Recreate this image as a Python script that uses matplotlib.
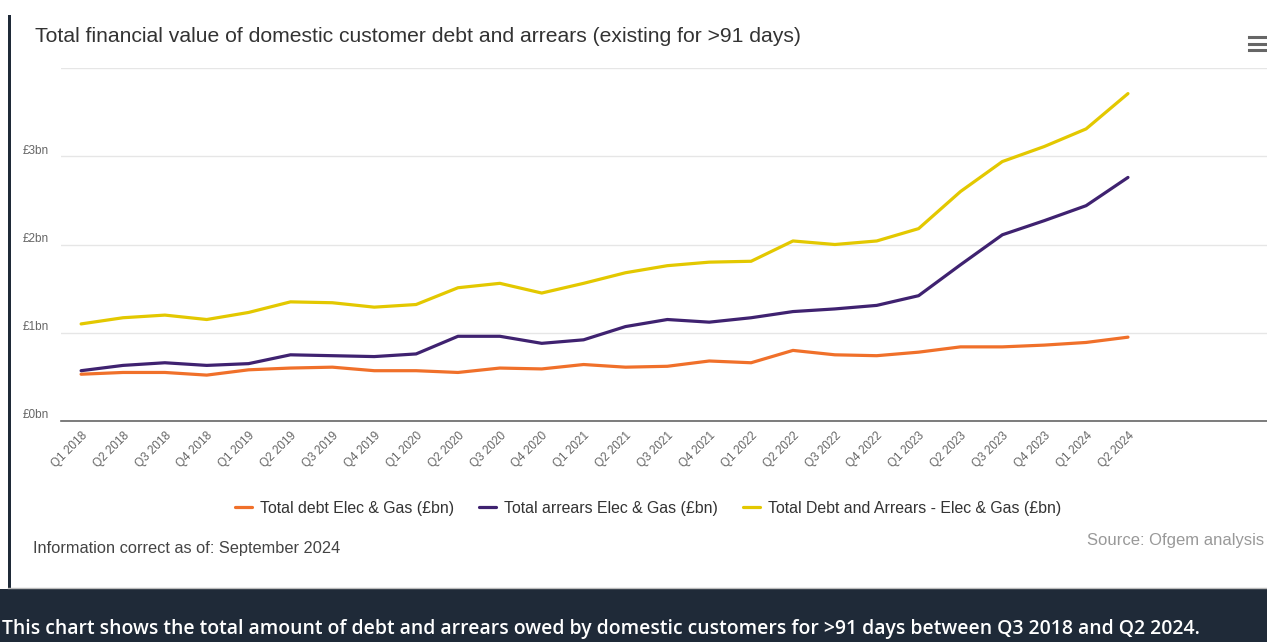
import matplotlib.pyplot as plt
import matplotlib.transforms as mtransforms
from matplotlib.lines import Line2D
from matplotlib.patches import Rectangle

quarters = [
    "Q1 2018", "Q2 2018", "Q3 2018", "Q4 2018",
    "Q1 2019", "Q2 2019", "Q3 2019", "Q4 2019",
    "Q1 2020", "Q2 2020", "Q3 2020", "Q4 2020",
    "Q1 2021", "Q2 2021", "Q3 2021", "Q4 2021",
    "Q1 2022", "Q2 2022", "Q3 2022", "Q4 2022",
    "Q1 2023", "Q2 2023", "Q3 2023", "Q4 2023",
    "Q1 2024", "Q2 2024",
]

# £bn owed for more than 91 days
total_debt = [
    0.53, 0.55, 0.55, 0.52, 0.58, 0.60, 0.61, 0.57, 0.57, 0.55, 0.60, 0.59, 0.64,
    0.61, 0.62, 0.68, 0.66, 0.80, 0.75, 0.74, 0.78, 0.84, 0.84, 0.86, 0.89, 0.95,
]
total_arrears = [
    0.57, 0.63, 0.66, 0.63, 0.65, 0.75, 0.74, 0.73, 0.76, 0.96, 0.96, 0.88, 0.92,
    1.07, 1.15, 1.12, 1.17, 1.24, 1.27, 1.31, 1.42, 1.77, 2.11, 2.27, 2.44, 2.76,
]
debt_and_arrears = [
    1.10, 1.17, 1.20, 1.15, 1.23, 1.35, 1.34, 1.29, 1.32, 1.51, 1.56, 1.45, 1.56,
    1.68, 1.76, 1.80, 1.81, 2.04, 2.00, 2.04, 2.18, 2.60, 2.94, 3.11, 3.31, 3.71,
]

series_names = [
    "Total debt Elec & Gas (£bn)",
    "Total arrears Elec & Gas (£bn)",
    "Total Debt and Arrears - Elec & Gas (£bn)",
]
series_colors = ["#f0702a", "#3f2270", "#e3c800"]

y_ticks = [0, 1, 2, 3, 4]
y_labels = ["£0bn", "£1bn", "£2bn", "£3bn", ""]

plt.rcParams["font.family"] = ["Liberation Sans", "DejaVu Sans"]

W, H = 1267, 642
fig = plt.figure(figsize=(W / 100, H / 100), dpi=100)
fig.patch.set_facecolor("white")

ax = fig.add_axes([61 / W, 1 - 421 / H, 1 - 61 / W, (421 - 68) / H])
x = list(range(len(quarters)))
lines = []
for vals, name, col in zip([total_debt, total_arrears, debt_and_arrears],
                           series_names, series_colors):
    (ln,) = ax.plot(x, vals, color=col, lw=2.3, label=name,
                    solid_joinstyle="round", solid_capstyle="round", zorder=3)
    lines.append(ln)

ax.set_xlim(-0.48, 28.32)
ax.set_ylim(0, 4)
ax.set_yticks(y_ticks)
ax.set_yticklabels(y_labels, fontsize=8.5, color="#666666")
ax.set_xticks(x)
ax.set_xticklabels(quarters, rotation=45, ha="right", va="top",
                   rotation_mode="anchor", fontsize=8.5, color="#666666")
ax.tick_params(axis="both", length=0)
ax.tick_params(axis="y", pad=9)
ax.tick_params(axis="x", pad=6)

# nudge y labels so they sit just above their grid lines
shift = mtransforms.ScaledTranslation(0, 7 / 100, fig.dpi_scale_trans)
for lab in ax.get_yticklabels():
    lab.set_transform(lab.get_transform() + shift)

ax.grid(axis="y", color="#e6e6e6", lw=1)
ax.set_axisbelow(True)
for side in ["top", "right", "left"]:
    ax.spines[side].set_visible(False)
ax.spines["bottom"].set_color("#666666")
ax.spines["bottom"].set_linewidth(1.2)
ax.spines["bottom"].set_zorder(4)

fig.text(35 / W, 1 - 37 / H, "Total financial value of domestic customer debt and arrears (existing for >91 days)",
         fontsize=15.2, color="#333333", va="center", ha="left")

# export menu icon
for yy in [37, 43.5, 50]:
    fig.add_artist(Line2D([1249 / W, 1.0], [1 - yy / H] * 2, color="#666666", lw=2.2))

fig.legend(handles=lines, loc="center", bbox_to_anchor=(648 / W, 1 - 508 / H),
           ncol=3, frameon=False, fontsize=11.4, labelcolor="#333333",
           handlelength=1.05, handletextpad=0.5, columnspacing=1.6)

fig.text(33 / W, 1 - 548 / H, "Information correct as of: September 2024",
         fontsize=11.75, color="#444444", va="center", ha="left")
fig.text(1264 / W, 1 - 541 / H, "Source: Ofgem analysis",
         fontsize=12, color="#999999", va="center", ha="right")

# card border and footer band
navy = "#1f2a38"
fig.add_artist(Rectangle((8 / W, 1 - 589 / H), 2.5 / W, (589 - 15) / H,
                         transform=fig.transFigure, color=navy, lw=0))
fig.add_artist(Line2D([8 / W, 1.0], [1 - 588 / H] * 2, color="#bbbbbb", lw=1))
fig.add_artist(Rectangle((0, 0), 1, (H - 589) / H, transform=fig.transFigure,
                         color=navy, lw=0))
fig.text(2 / W, 1 - 629 / H,
         "This chart shows the total amount of debt and arrears owed by domestic customers for >91 days between Q3 2018 and Q2 2024.",
         fontsize=13.95, color="white", va="center", ha="left",
         family=["Open Sans", "DejaVu Sans"], fontweight="semibold")

fig.savefig("out.png", dpi=100)
